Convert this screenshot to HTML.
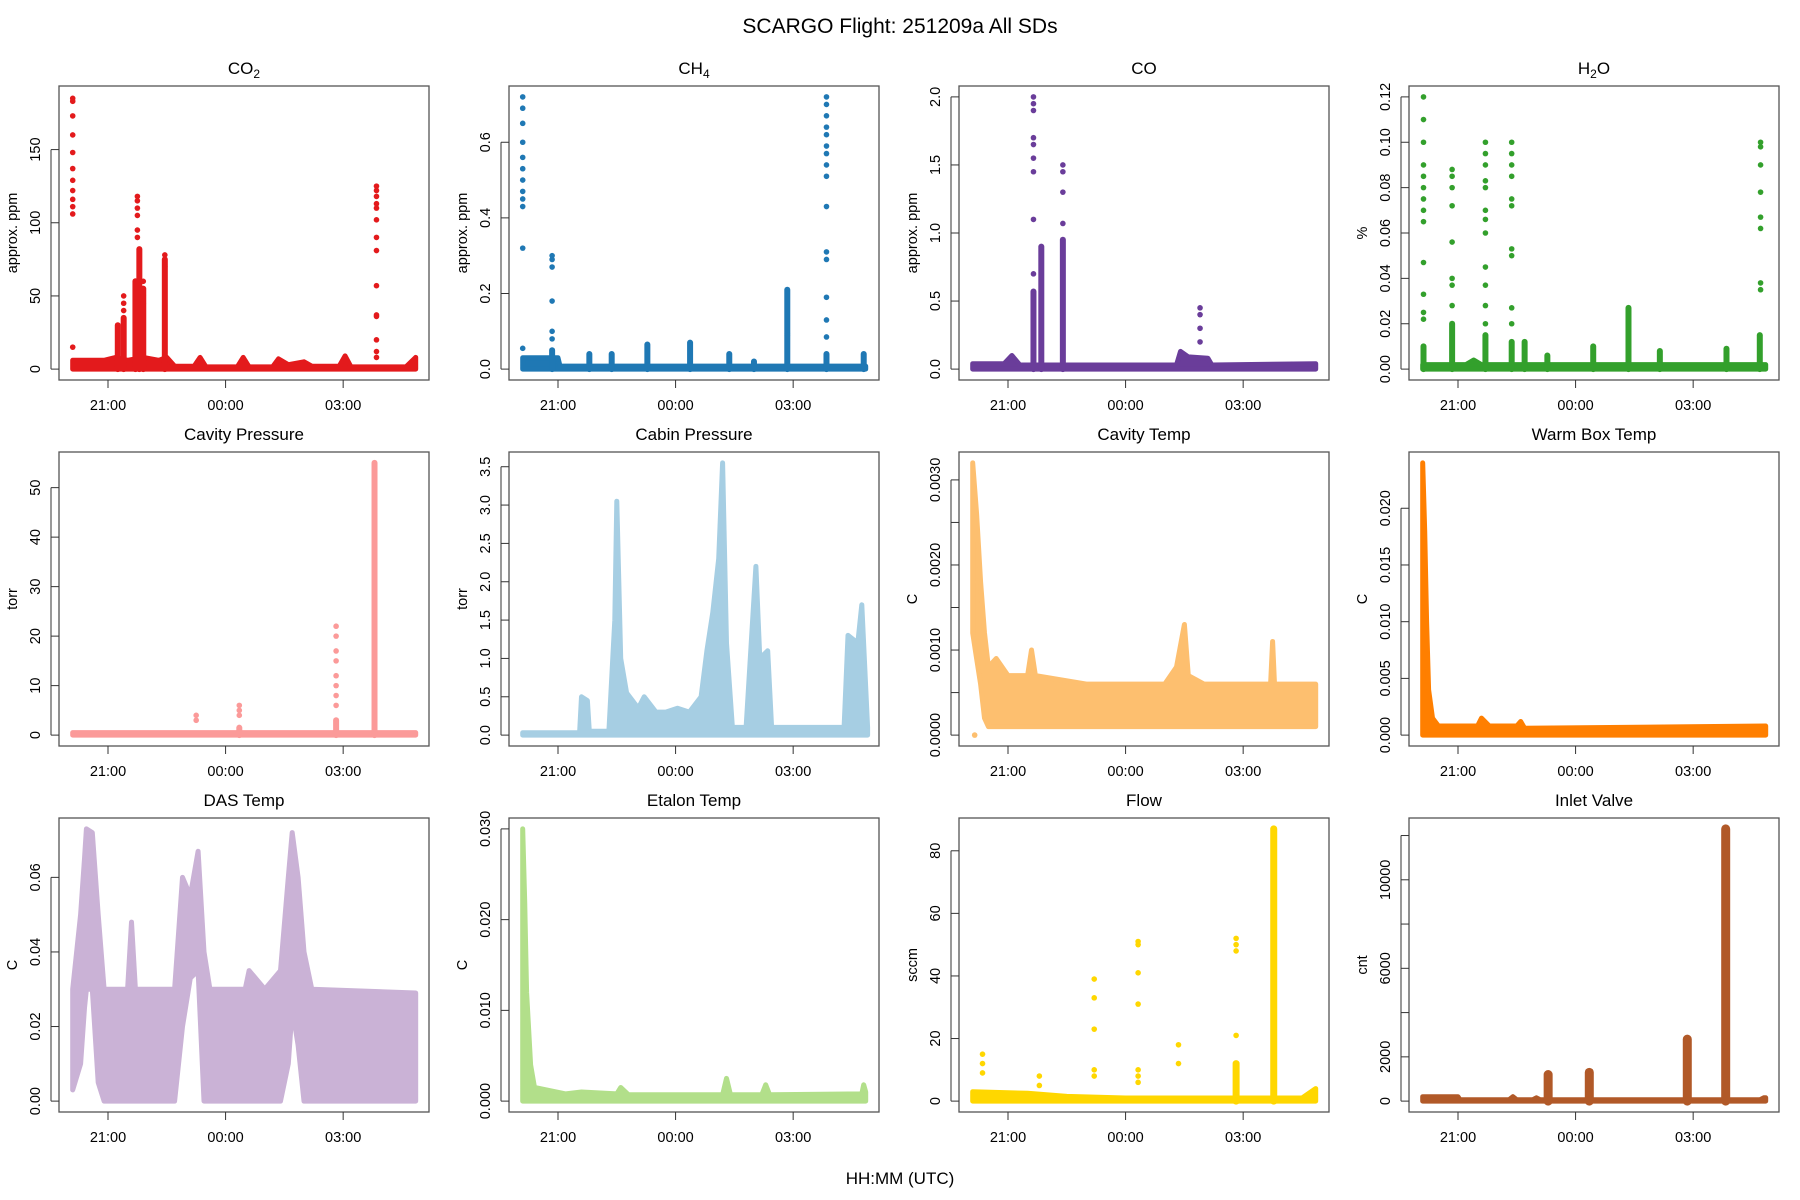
<!DOCTYPE html>
<html><head><meta charset="utf-8"><title>SCARGO Flight 251209a All SDs</title>
<style>
html,body{margin:0;padding:0;background:#fff;}
svg{display:block;font-family:"Liberation Sans",Arial,sans-serif;}
</style></head>
<body>
<svg id="chart" width="1800" height="1200" viewBox="0 0 1800 1200" xmlns="http://www.w3.org/2000/svg">
<text x="900" y="33" font-size="21" text-anchor="middle">SCARGO Flight: 251209a  All SDs</text>
<text x="900" y="1184" font-size="17" text-anchor="middle">HH:MM (UTC)</text>
</svg>
<script>
// ---- shared x axis ----
const xTickHours=[21,24,27];
const xTickLabels=["21:00","00:00","03:00"];
// ---- panel meta ----
const panelTitles=["CO2","CH4","CO","H2O","Cavity Pressure","Cabin Pressure","Cavity Temp","Warm Box Temp","DAS Temp","Etalon Temp","Flow","Inlet Valve"];
const yTitles=["approx. ppm","approx. ppm","approx. ppm","%","torr","torr","C","C","C","C","sccm","cnt"];
const colors=["#e31a1c","#1f78b4","#6a3d9a","#33a02c","#fb9a99","#a6cee3","#fdbf6f","#ff7f00","#cab2d6","#b2df8a","#ffd700","#b15928"];
const yMaxes=[186,0.72,2.0,0.12,55,3.55,0.0032,0.024,0.073,0.030,87,12300];
const yMins=[0,0,0,0,0,0,0,0,0,0,0,0];
const yTicks=[[0,50,100,150],[0,0.2,0.4,0.6],[0,0.5,1,1.5,2],[0,0.02,0.04,0.06,0.08,0.10,0.12],[0,10,20,30,40,50],[0,0.5,1,1.5,2,2.5,3,3.5],[0,0.0005,0.001,0.0015,0.002,0.0025,0.003],[0,0.005,0.01,0.015,0.02],[0,0.02,0.04,0.06],[0,0.01,0.02,0.03],[0,20,40,60,80],[0,2000,4000,6000,8000,10000,12000]];
const yTickLabels=[["0","50","100","150"],["0.0","0.2","0.4","0.6"],["0.0","0.5","1.0","1.5","2.0"],["0.00","0.02","0.04","0.06","0.08","0.10","0.12"],["0","10","20","30","40","50"],["0.0","0.5","1.0","1.5","2.0","2.5","3.0","3.5"],["0.0000","","0.0010","","0.0020","","0.0030"],["0.000","0.005","0.010","0.015","0.020"],["0.00","0.02","0.04","0.06"],["0.000","0.010","0.020","0.030"],["0","20","40","60","80"],["0","2000","","6000","","10000",""]];

// ---- CO2 ----
const co2BandT=[20.1,20.9,21.2,21.5,21.9,22.3,22.5,22.7,23.2,23.35,23.5,24.3,24.45,24.6,25.2,25.35,25.6,26.0,26.2,26.9,27.05,27.2,28.6,28.85];
const co2BandHi=[6,6,8,6,8,6,8,2,2,8,1.5,1.5,8,1.5,1.5,7,3,5,2,2,9,1.5,1.5,8];
const co2BandLo=co2BandT.map(()=>0);
const co2ColT=[21.25,21.4,21.7,21.8,21.9,22.45];
const co2ColHi=[30,35,60,82,55,75];
const co2DotT=[20.1,20.1,20.1,20.1,20.1,20.1,20.1,20.1,20.1,20.1,20.1,20.1,21.4,21.4,21.4,21.75,21.75,21.75,21.75,21.75,21.75,21.9,21.9,21.9,22.45,22.45,27.85,27.85,27.85,27.85,27.85,27.85,27.85,27.85,27.85,27.85,27.85,27.85,27.85,27.85];
const co2DotV=[185,183,173,160,148,137,129,122,116,111,106,15,50,45,40,118,115,110,105,95,90,60,50,45,78,70,125,122,118,113,110,102,90,81,57,37,36,20,12,8];
// ---- CH4 ----
const ch4BandT=[20.1,21.0,21.05,28.85];
const ch4BandHi=[0.03,0.03,0.008,0.008];
const ch4BandLo=[0,0,0,0];
const ch4ColT=[20.85,21.8,22.37,23.28,24.37,25.37,26.0,26.85,27.85,28.8];
const ch4ColHi=[0.05,0.04,0.04,0.065,0.07,0.04,0.02,0.21,0.04,0.04];
const ch4DotT=[20.1,20.1,20.1,20.1,20.1,20.1,20.1,20.1,20.1,20.1,20.1,20.1,20.85,20.85,20.85,20.85,20.85,20.85,26.85,26.85,27.85,27.85,27.85,27.85,27.85,27.85,27.85,27.85,27.85,27.85,27.85,27.85,27.85,27.85,27.85];
const ch4DotV=[0.72,0.69,0.65,0.60,0.56,0.53,0.50,0.47,0.45,0.43,0.32,0.055,0.30,0.29,0.27,0.18,0.10,0.08,0.095,0.09,0.72,0.70,0.67,0.64,0.62,0.59,0.57,0.54,0.51,0.43,0.31,0.29,0.19,0.13,0.085];
// ---- CO ----
const coBandT=[20.1,20.9,21.1,21.3,24.5,25.3,25.4,25.6,26.1,26.2,28.85];
const coBandHi=[0.04,0.04,0.1,0.03,0.03,0.03,0.13,0.09,0.08,0.03,0.04];
const coBandLo=coBandT.map(()=>0);
const coColT=[21.65,21.85,22.4];
const coColHi=[0.57,0.9,0.95];
const coDotT=[21.65,21.65,21.65,21.65,21.65,21.65,21.65,21.65,21.65,22.4,22.4,22.4,22.4,25.9,25.9,25.9,25.9];
const coDotV=[2.0,1.95,1.9,1.7,1.65,1.55,1.45,1.1,0.7,1.07,1.3,1.45,1.5,0.2,0.3,0.4,0.45];
// ---- H2O ----
const h2oBandT=[20.1,21.2,21.4,21.6,28.85];
const h2oBandHi=[0.002,0.002,0.004,0.002,0.002];
const h2oBandLo=[0,0,0,0,0];
const h2oColT=[20.12,20.85,21.7,22.37,22.7,23.28,24.45,25.35,26.15,27.85,28.7];
const h2oColHi=[0.01,0.02,0.015,0.012,0.012,0.006,0.01,0.027,0.008,0.009,0.015];
const h2oDotT=[20.12,20.12,20.12,20.12,20.12,20.12,20.12,20.12,20.12,20.12,20.12,20.12,20.12,20.85,20.85,20.85,20.85,20.85,20.85,20.85,20.85,21.7,21.7,21.7,21.7,21.7,21.7,21.7,21.7,21.7,21.7,21.7,21.7,22.37,22.37,22.37,22.37,22.37,22.37,22.37,22.37,22.37,22.37,28.72,28.72,28.72,28.72,28.72,28.72,28.72,28.72];
const h2oDotV=[0.12,0.11,0.1,0.09,0.085,0.08,0.075,0.07,0.065,0.047,0.033,0.025,0.022,0.088,0.085,0.08,0.072,0.056,0.04,0.037,0.028,0.1,0.095,0.09,0.083,0.08,0.07,0.066,0.06,0.045,0.037,0.028,0.02,0.1,0.095,0.09,0.085,0.075,0.072,0.053,0.05,0.027,0.02,0.1,0.098,0.09,0.078,0.067,0.062,0.038,0.035];
// ---- Cavity Pressure ----
const cpBandT=[20.1,28.85];
const cpBandHi=[0.5,0.5];
const cpBandLo=[0,0];
const cpColT=[24.35,26.82,27.8];
const cpColHi=[1.5,3,55];
const cpDotT=[23.25,23.25,24.35,24.35,24.35,26.82,26.82,26.82,26.82,26.82,26.82,26.82,26.82];
const cpDotV=[4,3,6,5,4,22,20,17,15,12,10,8,6];
// ---- Cabin Pressure ----
const cabBandT=[20.1,21.55,21.6,21.75,21.8,22.3,22.45,22.5,22.6,22.75,23.05,23.2,23.5,23.75,24.05,24.35,24.65,24.8,24.95,25.1,25.2,25.3,25.45,25.8,26.05,26.15,26.35,26.45,28.3,28.4,28.65,28.75,28.9];
const cabBandHi=[0.03,0.03,0.5,0.45,0.05,0.05,1.5,3.05,1.0,0.55,0.35,0.5,0.3,0.3,0.35,0.3,0.5,1.1,1.6,2.3,3.55,1.2,0.1,0.1,2.2,1.0,1.1,0.1,0.1,1.3,1.2,1.7,0.1];
const cabBandLo=cabBandT.map(()=>0);
const cabColT=[];const cabColHi=[];const cabDotT=[];const cabDotV=[];
// ---- Cavity Temp ----
const ctBandT=[20.1,20.2,20.3,20.4,20.5,20.7,21.0,21.5,21.6,21.7,23.0,24.0,25.0,25.3,25.5,25.6,26.0,27.0,27.7,27.75,27.8,28.85];
const ctBandHi=[0.0032,0.0026,0.0018,0.0012,0.0008,0.0009,0.0007,0.0007,0.001,0.0007,0.0006,0.0006,0.0006,0.0008,0.0013,0.0007,0.0006,0.0006,0.0006,0.0011,0.0006,0.0006];
const ctBandLo=[0.0012,0.0009,0.0006,0.0002,0.0001,0.0001,0.0001,0.0001,0.0001,0.0001,0.0001,0.0001,0.0001,0.0001,0.0001,0.0001,0.0001,0.0001,0.0001,0.0001,0.0001,0.0001];
const ctColT=[];const ctColHi=[];
const ctDotT=[20.15];const ctDotV=[0.0];
// ---- Warm Box Temp ----
const wbBandT=[20.1,20.15,20.2,20.25,20.35,20.5,21.5,21.6,21.8,22.5,22.6,22.7,28.85];
const wbBandHi=[0.024,0.018,0.01,0.004,0.0015,0.0008,0.0008,0.0015,0.0008,0.0008,0.0012,0.0006,0.0008];
const wbBandLo=wbBandT.map(()=>0);
const wbColT=[];const wbColHi=[];const wbDotT=[];const wbDotV=[];
// ---- DAS Temp ----
const dasBandT=[20.1,20.3,20.4,20.45,20.6,20.75,20.9,21.5,21.6,21.7,22.7,22.9,23.1,23.3,23.45,23.6,24.5,24.6,25.0,25.4,25.6,25.7,25.85,26.0,26.2,28.85];
const dasBandHi=[0.03,0.05,0.065,0.073,0.072,0.05,0.03,0.03,0.048,0.03,0.03,0.06,0.055,0.067,0.04,0.03,0.03,0.035,0.03,0.035,0.06,0.072,0.06,0.04,0.03,0.029];
const dasBandLo=[0.003,0.01,0.025,0.03,0.03,0.005,0,0,0,0,0,0.02,0.033,0.035,0,0,0,0,0,0,0.01,0.025,0.015,0,0,0];
const dasColT=[];const dasColHi=[];const dasDotT=[];const dasDotV=[];
// ---- Etalon Temp ----
const etBandT=[20.1,20.15,20.2,20.3,20.4,21.2,21.6,22.5,22.6,22.8,25.2,25.3,25.4,26.2,26.3,26.4,28.75,28.8,28.85];
const etBandHi=[0.030,0.022,0.012,0.004,0.0015,0.0008,0.001,0.0008,0.0015,0.0007,0.0007,0.0025,0.0007,0.0007,0.0018,0.0007,0.0008,0.0018,0.001];
const etBandLo=etBandT.map(()=>0);
const etColT=[];const etColHi=[];const etDotT=[];const etDotV=[];
// ---- Flow ----
const flBandT=[20.1,21.5,22.5,24.0,28.5,28.85];
const flBandHi=[3,2.5,1.5,1,1,4];
const flBandLo=[0,0,0,0,0,0];
const flColT=[26.82,27.78];
const flColHi=[12,87];
const flDotT=[20.35,20.35,20.35,21.8,21.8,23.2,23.2,23.2,23.2,23.2,24.32,24.32,24.32,24.32,24.32,24.32,24.32,25.35,25.35,26.82,26.82,26.82,26.82];
const flDotV=[15,12,9,8,5,39,33,23,10,8,51,50,41,31,10,8,6,18,12,52,50,48,21];
// ---- Inlet Valve ----
const ivBandT=[20.1,21.0,21.05,22.3,22.4,22.5,22.9,23.0,23.1,28.7,28.8,28.85];
const ivBandHi=[200,200,60,60,200,60,60,150,60,60,150,150];
const ivBandLo=ivBandT.map(()=>0);
const ivColT=[23.3,24.35,26.85,27.83];
const ivColHi=[1200,1300,2800,12300];
const ivDotT=[];const ivDotV=[];

const bandT=[co2BandT,ch4BandT,coBandT,h2oBandT,cpBandT,cabBandT,ctBandT,wbBandT,dasBandT,etBandT,flBandT,ivBandT];
const bandHi=[co2BandHi,ch4BandHi,coBandHi,h2oBandHi,cpBandHi,cabBandHi,ctBandHi,wbBandHi,dasBandHi,etBandHi,flBandHi,ivBandHi];
const bandLo=[co2BandLo,ch4BandLo,coBandLo,h2oBandLo,cpBandLo,cabBandLo,ctBandLo,wbBandLo,dasBandLo,etBandLo,flBandLo,ivBandLo];
const colT=[co2ColT,ch4ColT,coColT,h2oColT,cpColT,cabColT,ctColT,wbColT,dasColT,etColT,flColT,ivColT];
const colHi=[co2ColHi,ch4ColHi,coColHi,h2oColHi,cpColHi,cabColHi,ctColHi,wbColHi,dasColHi,etColHi,flColHi,ivColHi];
const dotT=[co2DotT,ch4DotT,coDotT,h2oDotT,cpDotT,cabDotT,ctDotT,wbDotT,dasDotT,etDotT,flDotT,ivDotT];
const dotV=[co2DotV,ch4DotV,coDotV,h2oDotV,cpDotV,cabDotV,ctDotV,wbDotV,dasDotV,etDotV,flDotV,ivDotV];

const NS="http://www.w3.org/2000/svg";
const svg=document.getElementById('chart');
const boxLefts=[59,509,959,1409], boxTops=[86,452,818], BW=370, BH=294;
const T0=19.75, T1=29.19;
const colStroke=[6,6,6,6,6,6,6,6,6,6,7,9];
function mk(tag,attrs,parent){const e=document.createElementNS(NS,tag);for(const k in attrs)e.setAttribute(k,attrs[k]);parent.appendChild(e);return e;}

for(let p=0;p<12;p++){
  const L=boxLefts[p%4], T=boxTops[Math.floor(p/4)];
  const ymin=yMins[p], ymax=yMaxes[p], pad=(ymax-ymin)*0.04;
  const y0=ymin-pad, y1=ymax+pad;
  const xs=t=>L+(t-T0)/(T1-T0)*BW;
  const ys=v=>T+BH-(v-y0)/(y1-y0)*BH;
  const g=mk('g',{},svg);
  
  
  const c=colors[p];
  const clip=mk('clipPath',{id:'clip'+p},g);
  mk('rect',{x:L,y:T,width:BW,height:BH},clip);
  const data=mk('g',{'clip-path':'url(#clip'+p+')'},g);
  
  
  const bt=bandT[p], bh=bandHi[p], bl=bandLo[p];
  let pts=[];
  for(let i=0;i<bt.length;i++)pts.push(xs(bt[i]).toFixed(1)+','+ys(bh[i]).toFixed(1));
  for(let i=bt.length-1;i>=0;i--)pts.push(xs(bt[i]).toFixed(1)+','+ys(bl[i]).toFixed(1));
  const band=mk('polygon',{points:pts.join(' '),fill:c,stroke:c,'stroke-width':5,'stroke-linejoin':'round'},data);
  
  
  for(let i=0;i<colT[p].length;i++){
    const ln=mk('line',{x1:xs(colT[p][i]),x2:xs(colT[p][i]),y1:ys(0),y2:ys(colHi[p][i]),stroke:c,'stroke-width':colStroke[p],'stroke-linecap':'round'},data);
    
    
  }
  for(let i=0;i<dotT[p].length;i++){
    const d=mk('circle',{cx:xs(dotT[p][i]),cy:ys(dotV[p][i]),r:2.8,fill:c},data);
    
    
  }
  const box=mk('rect',{x:L,y:T,width:BW,height:BH,fill:'none',stroke:'#555','stroke-width':1.3},g);
  
  
  const tt=mk('text',{x:L+BW/2,y:T-12,'font-size':17,'text-anchor':'middle'},g);
  
  
  const sub={0:['CO','2',''],1:['CH','4',''],3:['H','2','O']};
  if(sub[p]){
    tt.appendChild(document.createTextNode(sub[p][0]));
    const ts=mk('tspan',{'font-size':12,dy:4},tt);ts.textContent=sub[p][1];
    if(sub[p][2]){const t2=mk('tspan',{dy:-4},tt);t2.textContent=sub[p][2];}
  } else tt.textContent=panelTitles[p];
  const xa=mk('g',{},g);
  
  
  for(let i=0;i<xTickHours.length;i++){
    const x=xs(xTickHours[i]);
    mk('line',{x1:x,x2:x,y1:T+BH,y2:T+BH+8,stroke:'#333','stroke-width':1},xa);
    const lb=mk('text',{x:x,y:T+BH+30,'font-size':14.5,'text-anchor':'middle'},xa);
    lb.textContent=xTickLabels[i];
    
    
  }
  const ya=mk('g',{},g);
  
  
  const tks=yTicks[p];
  mk('line',{x1:L-8,x2:L-8,y1:ys(tks[0]),y2:ys(tks[tks.length-1]),stroke:'#333','stroke-width':1},ya);
  for(let i=0;i<tks.length;i++){
    const y=ys(tks[i]);
    mk('line',{x1:L-8,x2:L,y1:y,y2:y,stroke:'#333','stroke-width':1},ya);
    if(yTickLabels[p][i]){
      const lb=mk('text',{x:L-19,y:y,'font-size':14.5,'text-anchor':'middle',transform:'rotate(-90 '+(L-19)+' '+y+')'},ya);
      lb.textContent=yTickLabels[p][i];
      
      
    }
  }
  const yt=mk('text',{x:L-42,y:T+BH/2,'font-size':14.5,'text-anchor':'middle',transform:'rotate(-90 '+(L-42)+' '+(T+BH/2)+')'},ya);
  yt.textContent=yTitles[p];
  
  
}
</script>
</body></html>
